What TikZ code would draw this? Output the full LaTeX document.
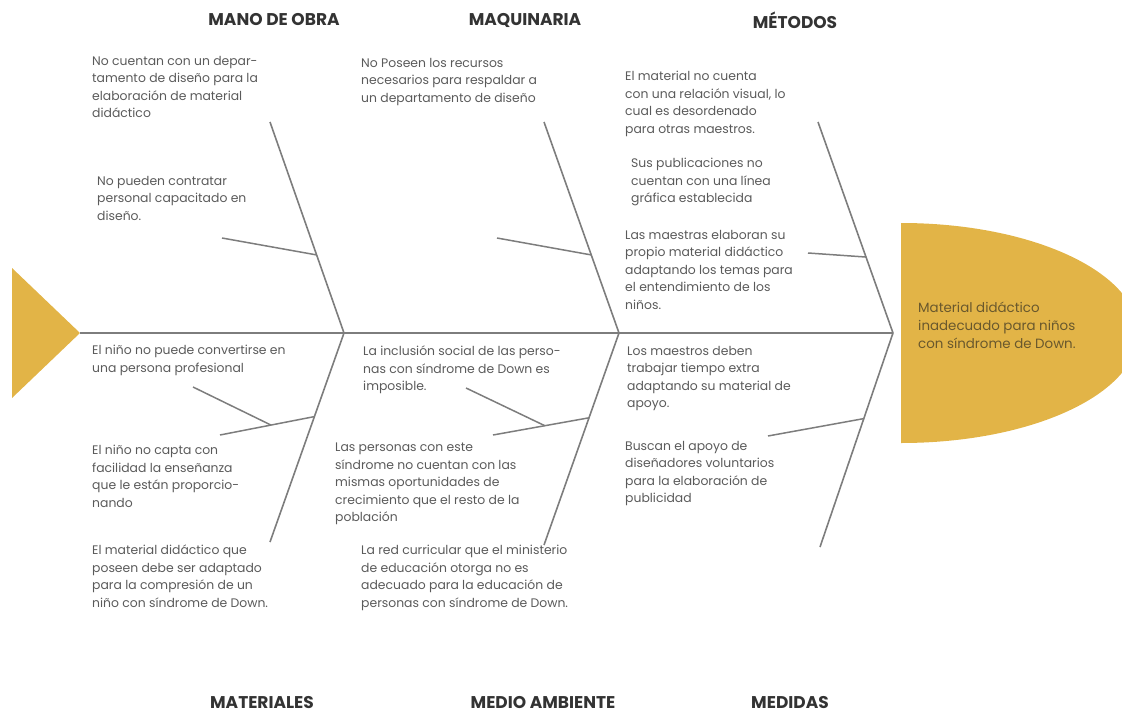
\documentclass[tikz,border=0pt]{standalone}
\usepackage{fontspec}
\setmainfont{Poppins}
\usetikzlibrary{positioning, calc}
\definecolor{gold}{RGB}{226,180,71}
\definecolor{bonegray}{RGB}{125,125,125}
\definecolor{txtgray}{RGB}{90,90,90}
\definecolor{headtxt}{RGB}{105,88,45}

\begin{document}
\begin{tikzpicture}[x=1pt, y=-1pt,
        cause/.style={anchor=north west, align=left, inner sep=0pt, text=txtgray, font=\fontsize{12.4}{17.5}\selectfont},
        cat/.style={inner sep=0pt, text=black!80, font=\bfseries\fontsize{17}{19}\selectfont},
        spine/.style={draw=bonegray, line width=2.6pt},
        bone/.style={draw=bonegray, line width=1.6pt},
        twig/.style={draw=bonegray, line width=1.5pt}
    ]
        \useasboundingbox (0,0) rectangle (1122,717);

        % head and tail
        \begin{scope}
            \clip (0,0) rectangle (1122,717);
            \fill[gold] (901,223) arc[start angle=90, end angle=-90, x radius=237pt, y radius=110pt] -- cycle;
        \end{scope}
        \fill[gold] (12,268) -- (80,333) -- (12,398) -- cycle;

        % spine and bones
        \coordinate (tail) at (80,333);
        \coordinate (j1) at (344,333);
        \coordinate (j2) at (619,333);
        \coordinate (j3) at (893,333);
        \coordinate (u1) at (270,122);
        \coordinate (u2) at (544,122);
        \coordinate (u3) at (818,122);
        \coordinate (l1) at (270,542);
        \coordinate (l2) at (544,545);
        \coordinate (l3) at (820,547);

        \draw[spine] (tail) -- (j3);
        \draw[bone] (j1) -- (u1);
        \draw[bone] (j2) -- (u2);
        \draw[bone] (j3) -- (u3);
        \draw[bone] (j1) -- (l1);
        \draw[bone] (j2) -- (l2);
        \draw[bone] (j3) -- (l3);

        % twigs
        \coordinate (t1) at (222,238);
        \coordinate (t2) at (497,238);
        \coordinate (t3) at (808,253);
        \coordinate (t4) at (220,435);
        \coordinate (t4b) at (193,387);
        \coordinate (t5) at (493,435);
        \coordinate (t5b) at (466,388);
        \coordinate (t6) at (768,436);

        \draw[twig] ($(j1)!0.37!(u1)$) -- (t1);
        \draw[twig] ($(j2)!0.37!(u2)$) -- (t2);
        \draw[twig] ($(j3)!0.36!(u3)$) -- (t3);
        \draw[twig] ($(j1)!0.40!(l1)$) coordinate (k4) -- (t4);
        \draw[twig] ($(k4)!0.46!(t4)$) -- (t4b);
        \draw[twig] ($(j2)!0.40!(l2)$) coordinate (k5) -- (t5);
        \draw[twig] ($(k5)!0.46!(t5)$) -- (t5b);
        \draw[twig] ($(j3)!0.40!(l3)$) -- (t6);

        % categories
        \node[cat] (mano) at (274,20) {MANO DE OBRA};
        \node[cat] (maq) at (525,20) {MAQUINARIA};
        \node[cat] (met) at (795,20) {MÉTODOS};
        \node[cat] (mat) at (262,703) {MATERIALES};
        \node[cat] (medio) at (543,703) {MEDIO AMBIENTE};
        \node[cat] (med) at (790,703) {MEDIDAS};

        % causes
        \node[cause] (c1) at (92,56) {No cuentan con un depar-\\tamento de diseño para la\\elaboración de material\\didáctico};
        \node[cause] (c2) at (97,176) {No pueden contratar\\personal capacitado en\\diseño.};
        \node[cause] (c3) at (361,58) {No Poseen los recursos\\necesarios para respaldar a\\un departamento de diseño};
        \node[cause] (c4) at (625,71) {El material no cuenta\\con una relación visual, lo\\cual es desordenado\\para otras maestros.};
        \node[cause] (c5) at (631,158) {Sus publicaciones no\\cuentan con una línea\\gráfica establecida};
        \node[cause] (c6) at (625,230) {Las maestras elaboran su\\propio material didáctico\\adaptando los temas para\\el entendimiento de los\\niños.};
        \node[cause] (c7) at (92,345) {El niño no puede convertirse en\\una persona profesional};
        \node[cause] (c8) at (92,445) {El niño no capta con\\facilidad la enseñanza\\que le están proporcio-\\nando};
        \node[cause] (c9) at (92,545) {El material didáctico que\\poseen debe ser adaptado\\para la compresión de un\\niño con síndrome de Down.};
        \node[cause] (c10) at (363,346) {La inclusión social de las perso-\\nas con síndrome de Down es\\imposible.};
        \node[cause] (c11) at (335,443) {Las personas con este\\síndrome no cuentan con las\\mismas oportunidades de\\crecimiento que el resto de la\\población};
        \node[cause] (c12) at (361,545) {La red curricular que el ministerio\\de educación otorga no es\\adecuado para la educación de\\personas con síndrome de Down.};
        \node[cause] (c13) at (627,346) {Los maestros deben\\trabajar tiempo extra\\adaptando su material de\\apoyo.};
        \node[cause] (c14) at (625,441) {Buscan el apoyo de\\diseñadores voluntarios\\para la elaboración de\\publicidad};

        % effect
        \node[cause, text=headtxt, font=\fontsize{13.4}{18}\selectfont] (effect) at (918,302) {Material didáctico\\inadecuado para niños\\con síndrome de Down.};
    \end{tikzpicture}
\end{document}
